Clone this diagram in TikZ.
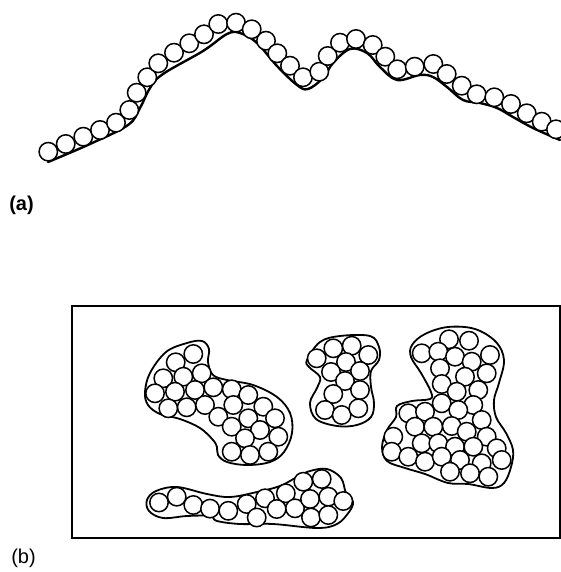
\documentclass[tikz,border=0pt]{standalone}
\usepackage{fontspec}
\setmainfont{Liberation Sans}
\begin{document}
\begin{tikzpicture}[x=1pt,y=-1pt,
  ball/.style={draw=black,line width=1.5pt,fill=white},
  blob/.style={draw=black,line width=1.8pt},
  ground/.style={draw=black,line width=2.4pt,line cap=round},
  lab/.style={font=\fontsize{20}{22}\selectfont,inner sep=0pt}]
\useasboundingbox (0,0) rectangle (560,572);
\def\R{9.2}
% (a) surface with adsorbed monolayer
\draw[ground] plot[smooth,tension=0.6] coordinates {(48,162) (90,144) (128,125) (140,108) (150,88) (163,74) (203,51) (227,34) (240,33) (257,43) (277,66) (297,85) (308,89) (323,78) (333,63) (350,49) (367,53) (380,67) (397,80) (420,75) (433,77) (447,87) (463,100) (480,103) (497,108) (513,117) (533,128) (560,140)};
\foreach \x/\y in {48.3/151.7,65.7/144,83.3/136.7,100/130,116/122.7,129.3/110,136.7/92.7,147.3/77.3,158.3/63.3,174/52.7,189.3/43.3,204/34.3,218.3/24,236/22.7,251.7/29.3,266/40.7,277.3/53.3,290/65.7,303/77.3,319.3/71.7,327.7/56,340/42.7,356/39,372.7/45,385.3/56.7,397.3/69.3,414.7/66.7,433.3/64,446.7/74,461.7/85.7,476.7/94.3,494.3/97.3,511/104,526.7/113.3,541.7/121.7,556/129.3}
  \draw[ball] (\x,\y) circle (\R);
\node[lab,font=\fontsize{20}{22}\selectfont\bfseries] (la) at (21.5,205) {(a)};
% (b) frame
\draw[line width=1.8pt] (72,306) rectangle (560,538);
% blob 1
\draw[blob] plot[smooth cycle,tension=0.6] coordinates {(145,392) (150,373) (166,352) (187,343) (202,341) (209,349) (208,362) (213,375) (227,380) (253,385) (277,397) (290,413) (292,433) (284,452) (270,462) (247,465) (227,462) (218,455) (217,447) (213,440) (200,428) (180,419) (160,414) (148,405)};
\foreach \x/\y in {193.3/354,175.7/362.3,163.3/378.3,183.3/376.7,201.7/373.3,155/393.3,175/391.7,195/390,213.3/387.3,231.7/389.3,248.3/395,168.3/408.3,186.7/407.3,205/405,233.3/405,263.3/406.7,218.3/416.7,248.3/418.3,275/418.3,231.7/426.7,260/430,278.3/436.7,245/438.3,231.7/451.7,250/455,268.3/451.7}
  \draw[ball] (\x,\y) circle (\R);
% blob 2
\draw[blob] plot[smooth cycle,tension=0.6] coordinates {(307,360) (320,342) (340,336) (370,336) (379,347) (379,360) (371,371) (371,387) (374,403) (371,417) (357,425) (337,426) (316,419) (310,403) (317,388) (320,377) (309,367)};
\foreach \x/\y in {316.7/358.3,333.3/348.3,351.7/345.7,368.3/355,346/362,331/372,360/371,345/381,333.3/394,360/390,325/410,341.7/415,358.3/408.3}
  \draw[ball] (\x,\y) circle (\R);
% blob 3
\draw[blob] plot[smooth cycle,tension=0.6] coordinates {(448,327) (475,329) (496,342) (504,360) (499,383) (494,400) (496,417) (506,433) (513,450) (511,467) (504,483) (492,488) (468,484) (448,483) (425,474) (405,468) (387,461) (382,447) (387,430) (396,417) (397,406) (412,401) (430,399) (431,392) (421,373) (411,357) (412,345) (425,334)};
\foreach \x/\y in {449/339.3,469/340.7,421.7/353.3,438.3/351.7,455/356.7,471.7/361.7,490/355,440/368.3,465/376.7,486.7/373.3,441.7/384,456.7/391.7,478.3/390,441.7/403.3,473.3/405,408.3/413.3,425/411.7,458.3/410,481.7/420,415/426.7,433.3/426.7,451.7/426,466.7/431.7,486.7/436.7,393.3/436.7,421.7/443.3,438.3/443.3,455/446.7,473.3/446.7,496.7/448.3,391.7/451.7,408.3/456.7,425/461.7,441.7/456.7,460/460,481.7/463.3,501.7/460,450/471.7,470/473.3,488.3/476.7}
  \draw[ball] (\x,\y) circle (\R);
% blob 4
\draw[blob] plot[smooth cycle,tension=0.6] coordinates {(147,500) (156,491) (177,487) (207,494) (230,497) (257,492) (280,486) (297,477) (310,471) (327,469) (341,478) (346,493) (353,502) (349,512) (337,524) (317,528) (273,524) (240,524) (217,521) (210,516) (187,516) (163,518) (149,511)};
\foreach \x/\y in {159/502.5,176.7/496.7,193.3/505,210/508.6,228.3/510.8,246.7/504,265/498.3,285.8/493.3,303.3/481.7,321.7/479,256.7/517.5,276.7/509,295/508.3,310/499,328.3/496.7,343.3/501,311/517.5,328.3/515}
  \draw[ball] (\x,\y) circle (\R);
\node[lab] (lb) at (23.5,558) {(b)};
\end{tikzpicture}
\end{document}
